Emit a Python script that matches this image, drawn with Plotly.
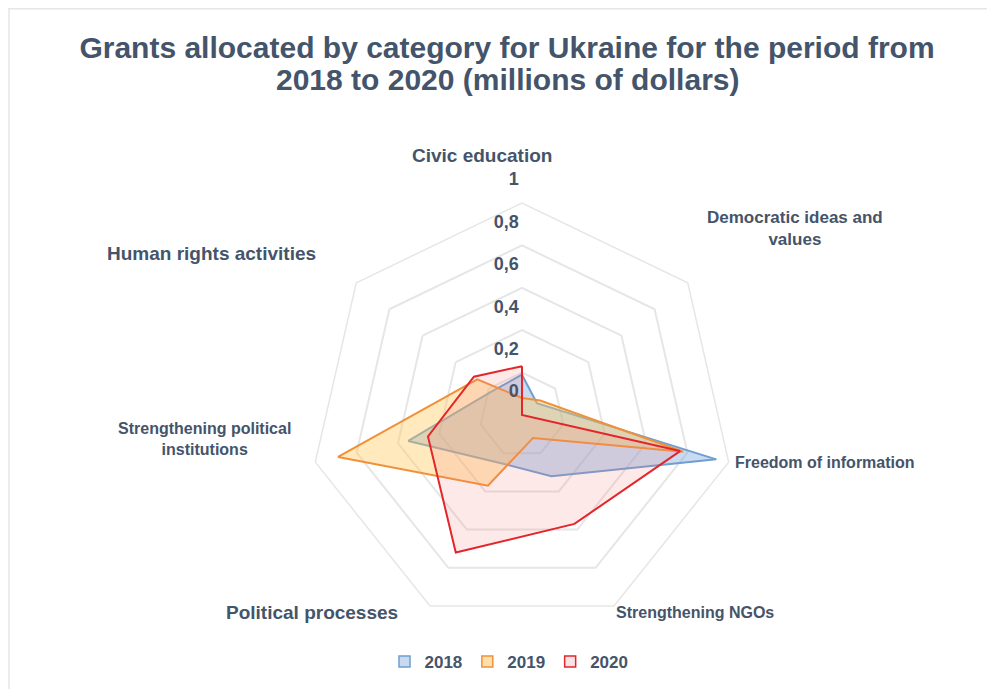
import plotly.graph_objects as go

categories = ["Civic education", "Democratic ideas and values", "Freedom of information",
              "Strengthening NGOs", "Political processes",
              "Strengthening political institutions", "Human rights activities"]
years = ["2018", "2019", "2020"]
v2018 = [0.19, 0.09, 0.94, 0.32, 0.25, 0.55, 0.18]
v2019 = [0.08, 0.11, 0.78, 0.12, 0.37, 0.89, 0.27]
v2020 = [0.23, 0.0, 0.765, 0.57, 0.72, 0.455, 0.29]
radial_ticks = [0, 0.2, 0.4, 0.6, 0.8, 1]
radial_ticktext = ["0", "0,2", "0,4", "0,6", "0,8", "1"]
title_lines = ["Grants allocated by category for Ukraine for the period from",
               "2018 to 2020 (millions of dollars)"]

W, H = 995, 689
OFF = 8  # page body margin
TXT = "#44546A"
FONT = "Liberation Sans, Arial"
series = [v2018, v2019, v2020]
line_colors = ["#6F9FD0", "#F0913A", "#E3262B"]
fill_colors = ["rgba(120,165,220,0.40)", "rgba(255,200,90,0.40)", "rgba(250,120,120,0.16)"]
legend_fill = ["#C9DAF0", "#FCE0A8", "#FBE3E3"]

fig = go.Figure()
for name, vals, lc, fc in zip(years, series, line_colors, fill_colors):
    fig.add_trace(go.Scatterpolar(
        r=vals + vals[:1], theta=categories + categories[:1],
        mode="lines", fill="toself", name=name, showlegend=False,
        line=dict(color=lc, width=2), fillcolor=fc))
for name, lc, lf in zip(years, line_colors, legend_fill):
    fig.add_trace(go.Scatterpolar(
        r=[None], theta=[categories[0]], mode="markers", name="<b>" + name + "</b>",
        marker=dict(symbol="square", size=11, color=lf, line=dict(color=lc, width=1.5))))

cx, cy, R = 522 - OFF, 415 - OFF, 212
fig.update_layout(
    width=W, height=H,
    margin=dict(l=0, r=0, t=0, b=0),
    paper_bgcolor="white",
    font=dict(family=FONT, color=TXT),
    title=dict(text="<b>" + title_lines[0] + "</b>",
               x=(507 - OFF) / W, xanchor="center", y=1 - (47 - OFF) / H, yanchor="middle",
               yref="container",
               font=dict(size=30, color=TXT, family=FONT)),
    polar=dict(
        domain=dict(x=[(cx - R) / W, (cx + R) / W], y=[(H - cy - R) / H, (H - cy + R) / H]),
        bgcolor="white",
        gridshape="linear",
        angularaxis=dict(rotation=90, direction="clockwise", showticklabels=False,
                         showgrid=False, showline=True, linecolor="#E6E6E6", linewidth=1.5,
                         ticks=""),
        radialaxis=dict(range=[0, 1], tickvals=radial_ticks,
                        ticktext=["<b>" + t + "</b><br> <br> " for t in radial_ticktext],
                        angle=90, tickangle=90, side="counterclockwise",
                        showline=False, gridcolor="#E6E6E6", gridwidth=1.5, ticks="",
                        tickfont=dict(size=18, color=TXT, family=FONT)),
    ),
    legend=dict(orientation="h", x=(509 - OFF) / W, xanchor="center", y=1 - (662 - OFF) / H,
                yanchor="middle", font=dict(size=17, color=TXT, family=FONT),
                itemwidth=30, tracegroupgap=0),
    showlegend=True,
)

fig.add_annotation(x=(507 - OFF) / W, y=1 - (80 - OFF) / H, xref="paper", yref="paper",
                   text="<b>" + title_lines[1] + "</b>", showarrow=False,
                   xanchor="center", yanchor="middle",
                   font=dict(size=30, color=TXT, family=FONT))

label_pos = [(482, 155, 19), (795, 229, 17), (825, 462, 16), (695, 612, 16),
             (312, 612, 19), (204, 439, 16), (211, 253, 19)]
label_text = ["Civic education", "Democratic ideas and<br>values", "Freedom of information",
              "Strengthening NGOs", "Political processes",
              "Strengthening political<br>institutions", "Human rights activities"]
for (px, py, sz), txt in zip(label_pos, label_text):
    fig.add_annotation(x=(px - OFF) / W, y=1 - (py - OFF) / H, xref="paper", yref="paper",
                       text="<b>" + txt + "</b>", showarrow=False,
                       xanchor="center", yanchor="middle",
                       font=dict(size=sz, color=TXT, family=FONT))

fig.add_shape(type="line", xref="paper", yref="paper", x0=0, x1=1, y0=0.999, y1=0.999,
              line=dict(color="#E6E6E6", width=1.5))
fig.add_shape(type="line", xref="paper", yref="paper", x0=0.001, x1=0.001, y0=0, y1=1,
              line=dict(color="#E6E6E6", width=1.5))

fig.write_html("out.html")
